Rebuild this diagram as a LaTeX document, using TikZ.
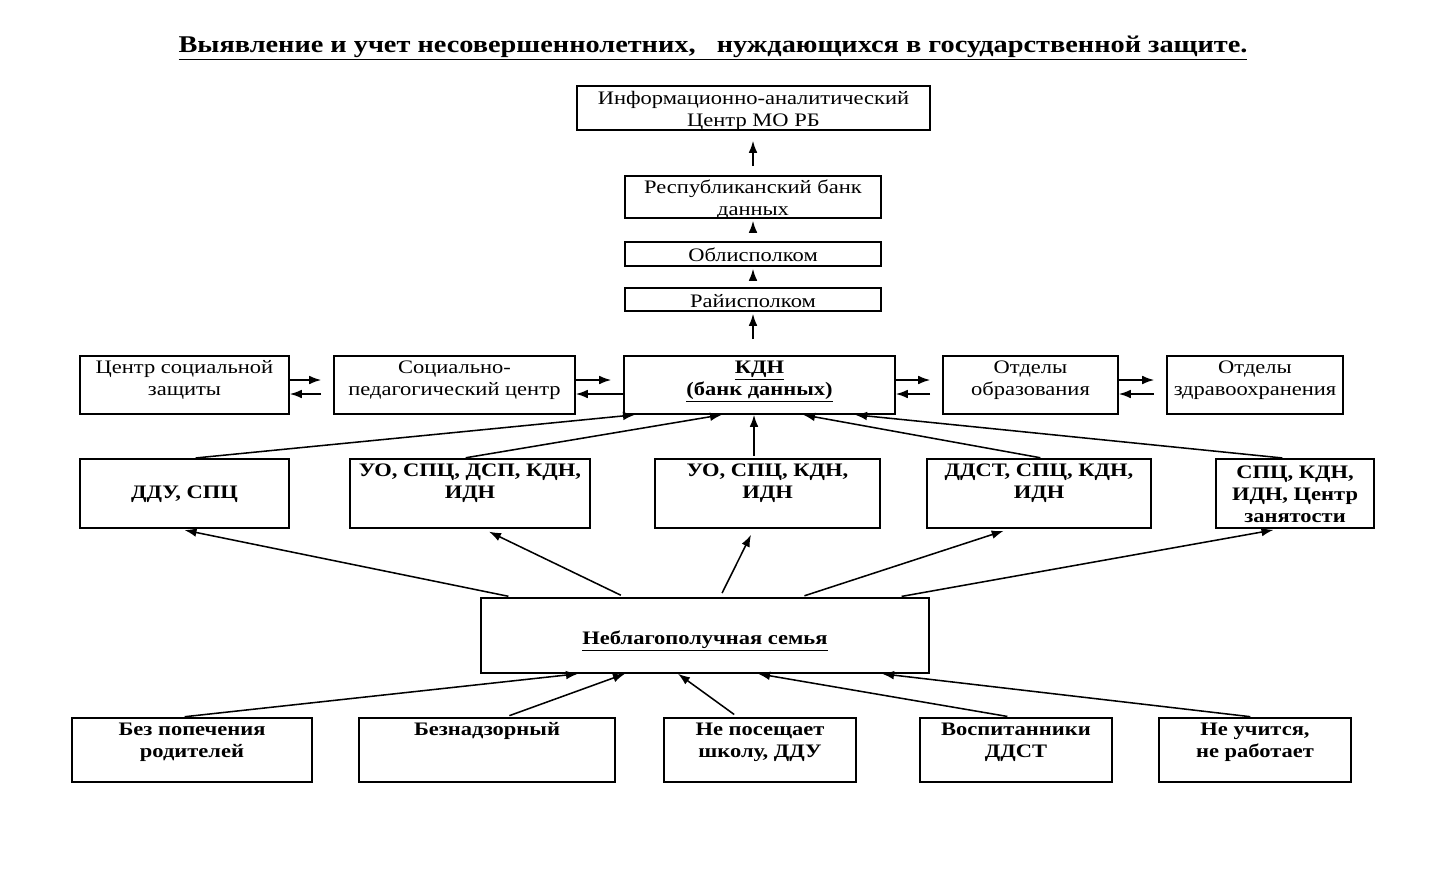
\documentclass[tikz,border=0pt]{standalone}
\usepackage{fontspec}
\setmainfont{Liberation Serif}[FakeStretch=1.18]
\usetikzlibrary{arrows.meta,calc}
\tikzset{
 box/.style={draw, line width=1.15pt, inner sep=0pt},
 txt/.style={align=center, inner sep=0pt, font=\fontsize{14.3}{16.5}\selectfont},
 btxt/.style={txt, font=\fontsize{14.3}{16.5}\selectfont\bfseries},
 arr/.style={line width=1.15pt, -{Latex[length=9pt,width=6.5pt]}},
}
\newcommand\ulx[1]{\smash{\underline{#1}}\vphantom{Ag}}
\newcommand\mkbox[8][txt]{%
 \pgfmathsetmacro\cxx{(#3+#5)/2}%
 \pgfmathsetmacro\cyy{(#4+#6)/2}%
 \pgfmathsetmacro\ww{(#5-#3)*0.75}%
 \pgfmathsetmacro\hh{(#6-#4)*0.75}%
 \node[box,minimum width=\ww pt,minimum height=\hh pt] (#2) at (\cxx,\cyy) {};
 \node[#1] (#2t) at (\cxx,#7) {#8};
}
\begin{document}
\begin{tikzpicture}[x=0.75pt,y=-0.75pt]
\useasboundingbox (0,0) rectangle (1432,875);
\node[txt, font=\fontsize{18}{20}\selectfont\bfseries] (title) at (713,47) {\ulx{Выявление и учет несовершеннолетних,\ \ \ нуждающихся в государственной защите.}};
% top chain
\mkbox{info}{577}{86}{930}{130}{111}{Информационно-аналитический\\Центр МО РБ}
\mkbox{rbd}{625}{176}{881}{218}{200}{Республиканский банк\\данных}
\mkbox{obl}{625}{242}{881}{266}{255}{Облисполком}
\mkbox{rai}{625}{288}{881}{311}{301}{Райисполком}
% row 2
\mkbox{csz}{80}{356}{289}{414}{380}{Центр социальной\\защиты}
\mkbox{spc}{334}{356}{575}{414}{380}{Социально-\\педагогический центр}
\mkbox[btxt]{kdn}{624}{356}{895}{414}{380}{\ulx{КДН}\\\ulx{(банк данных)}}
\mkbox{oo}{943}{356}{1118}{414}{380}{Отделы\\образования}
\mkbox{oz}{1167}{356}{1343}{414}{380}{Отделы\\здравоохранения}
% row 3
\mkbox[btxt]{ddu}{80}{459}{289}{528}{494}{ДДУ, СПЦ}
\mkbox[btxt]{rb}{350}{459}{590}{528}{483}{УО, СПЦ, ДСП, КДН,\\ИДН}
\mkbox[btxt]{rc}{655}{459}{880}{528}{483}{УО, СПЦ, КДН,\\ИДН}
\mkbox[btxt]{rd}{927}{459}{1151}{528}{483}{ДДСТ, СПЦ, КДН,\\ИДН}
\mkbox[btxt]{re}{1216}{459}{1374}{528}{494}{СПЦ, КДН,\\ИДН, Центр\\занятости}
% family
\mkbox[btxt]{fam}{481}{598}{929}{673}{640}{\ulx{Неблагополучная семья}}
% bottom row
\mkbox[btxt]{ba}{72}{718}{312}{782}{742}{Без попечения\\родителей}
\mkbox[btxt]{bb}{359}{718}{615}{782}{731}{Безнадзорный}
\mkbox[btxt]{bc}{664}{718}{856}{782}{742}{Не посещает\\школу, ДДУ}
\mkbox[btxt]{bd}{920}{718}{1112}{782}{742}{Воспитанники\\ДДСТ}
\mkbox[btxt]{be}{1159}{718}{1351}{782}{742}{Не учится,\\не работает}
% vertical chain arrows
\draw[arr, shorten <=6.75pt, shorten >=7.5pt] (rbd.north) -- (info.south -| rbd.north);
\draw[arr, shorten <=7.5pt, shorten >=1.5pt] (obl.north) -- (rbd.south);
\draw[arr, shorten <=7.5pt, shorten >=1.5pt] (rai.north) -- (obl.south);
\draw[arr, shorten <=12pt, shorten >=1.5pt] (kdn.north -| rai.south) -- (rai.south);
% horizontal double arrows
\draw[arr, shorten >=9pt] (csz.east |- 0,380) -- (spc.west |- 0,380);
\draw[arr, shorten <=9pt] (spc.west |- 0,394) -- (csz.east |- 0,394);
\draw[arr, shorten >=9pt] (spc.east |- 0,380) -- (kdn.west |- 0,380);
\draw[arr] (kdn.west |- 0,394) -- (spc.east |- 0,394);
\draw[arr, shorten >=9pt] (kdn.east |- 0,380) -- (oo.west |- 0,380);
\draw[arr, shorten <=9pt] (oo.west |- 0,394) -- (kdn.east |- 0,394);
\draw[arr, shorten >=9pt] (oo.east |- 0,380) -- (oz.west |- 0,380);
\draw[arr, shorten <=9pt] (oz.west |- 0,394) -- (oo.east |- 0,394);
% row 3 to KDN
\draw[arr, shorten <=2pt] (ddu.north -| 193,0) -- (kdn.south -| 635,0);
\draw[arr, shorten <=2pt] (rb.north -| 463,0) -- (kdn.south -| 722,0);
\draw[arr, shorten <=2pt] (rc.north -| 754,0) -- (kdn.south -| 754,0);
\draw[arr, shorten <=2pt] (rd.north -| 1043,0) -- (kdn.south -| 803,0);
\draw[arr, shorten <=2pt] (re.north -| 1285,0) -- (kdn.south -| 855,0);
% family to row 3
\draw[arr, shorten <=3.5pt, shorten >=5pt] (fam.north -| 513,0) -- (ddu.south -| 178,0);
\draw[arr, shorten <=3.5pt, shorten >=5pt] (fam.north -| 625,0) -- (rb.south -| 483,0);
\draw[arr, shorten <=3.5pt, shorten >=5pt] (fam.north -| 720,0) -- (rc.south -| 754,0);
\draw[arr, shorten <=3.5pt, shorten >=5pt] (fam.north -| 800,0) -- (rd.south -| 1010,0);
\draw[arr, shorten <=3.5pt, shorten >=5pt] (fam.north -| 897,0) -- (re.south -| 1280,0);
% bottom to family
\draw[arr, shorten <=3.5pt] (ba.north -| 180,0) -- (fam.south -| 578,0);
\draw[arr, shorten <=3.5pt] (bb.north -| 505,0) -- (fam.south -| 625,0);
\draw[arr, shorten <=3.5pt] (bc.north -| 738,0) -- (fam.south -| 678,0);
\draw[arr, shorten <=3.5pt] (bd.north -| 1012,0) -- (fam.south -| 758,0);
\draw[arr, shorten <=3.5pt] (be.north -| 1255,0) -- (fam.south -| 882,0);
\end{tikzpicture}
\end{document}
